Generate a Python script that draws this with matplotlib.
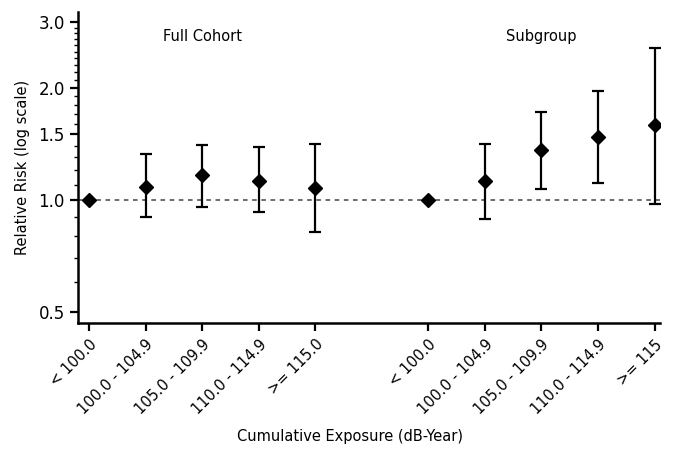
import numpy as np
import matplotlib
matplotlib.use("Agg")
from matplotlib import pyplot as plt
from matplotlib.ticker import FixedLocator, NullFormatter

# categories and estimates
categories = ["< 100.0", "100.0 - 104.9", "105.0 - 109.9", "110.0 - 114.9", ">= 115.0"]
sub_categories = ["< 100.0", "100.0 - 104.9", "105.0 - 109.9", "110.0 - 114.9", ">= 115"]

full_rr = [1.0, 1.086, 1.167, 1.127, 1.075]
full_lo = [1.0, 0.898, 0.956, 0.927, 0.819]
full_hi = [1.0, 1.327, 1.408, 1.391, 1.414]

sub_rr = [1.0, 1.125, 1.36, 1.477, 1.587]
sub_lo = [1.0, 0.889, 1.068, 1.109, 0.976]
sub_hi = [1.0, 1.417, 1.72, 1.967, 2.566]

full_x = np.arange(5)
sub_x = np.arange(5) + 6

fig = plt.figure(figsize=(6.73, 4.75), dpi=100)
ax = fig.add_axes([0.116, 0.32, 0.865, 0.655])

for xs, rr, lo, hi in [(full_x, full_rr, full_lo, full_hi), (sub_x, sub_rr, sub_lo, sub_hi)]:
    rr = np.array(rr)
    yerr = [rr - np.array(lo), np.array(hi) - rr]
    ax.errorbar(xs, rr, yerr=yerr, fmt="D", color="black", markersize=7,
                elinewidth=1.6, capsize=4, capthick=1.6, zorder=3)

ax.axhline(1.0, color="#444444", linestyle=(0, (3, 3)), linewidth=1.1, zorder=1)

ax.set_yscale("log")
ax.set_ylim(0.467, 3.2)
ax.set_xlim(-0.195, 10.1)

ax.yaxis.set_major_locator(FixedLocator([0.5, 1.0, 1.5, 2.0, 3.0]))
ax.set_yticklabels(["0.5", "1.0", "1.5", "2.0", "3.0"])
minor = [v / 10 for v in range(5, 31) if v not in (5, 10, 15, 20, 30)]
ax.yaxis.set_minor_locator(FixedLocator(minor))
ax.yaxis.set_minor_formatter(NullFormatter())

ax.set_xticks(list(full_x) + list(sub_x))
ax.set_xticklabels(categories + sub_categories, rotation=45, ha="right",
                   rotation_mode="anchor", fontsize=10.5)
ax.tick_params(axis="y", which="major", labelsize=12, length=6, width=1.6)
ax.tick_params(axis="y", which="minor", length=3, width=1)
ax.tick_params(axis="x", length=6, width=1.6, pad=4)

for s in ["top", "right"]:
    ax.spines[s].set_visible(False)
for s in ["left", "bottom"]:
    ax.spines[s].set_linewidth(1.8)

ax.text(2, 2.75, "Full Cohort", ha="center", va="center", fontsize=10.5)
ax.text(8, 2.75, "Subgroup", ha="center", va="center", fontsize=10.5)

ax.set_ylabel("Relative Risk (log scale)", fontsize=10.5, labelpad=6)
fig.text(0.52, 0.08, "Cumulative Exposure (dB-Year)", ha="center", va="center", fontsize=10.5)

fig.savefig("out.png", dpi=100)
